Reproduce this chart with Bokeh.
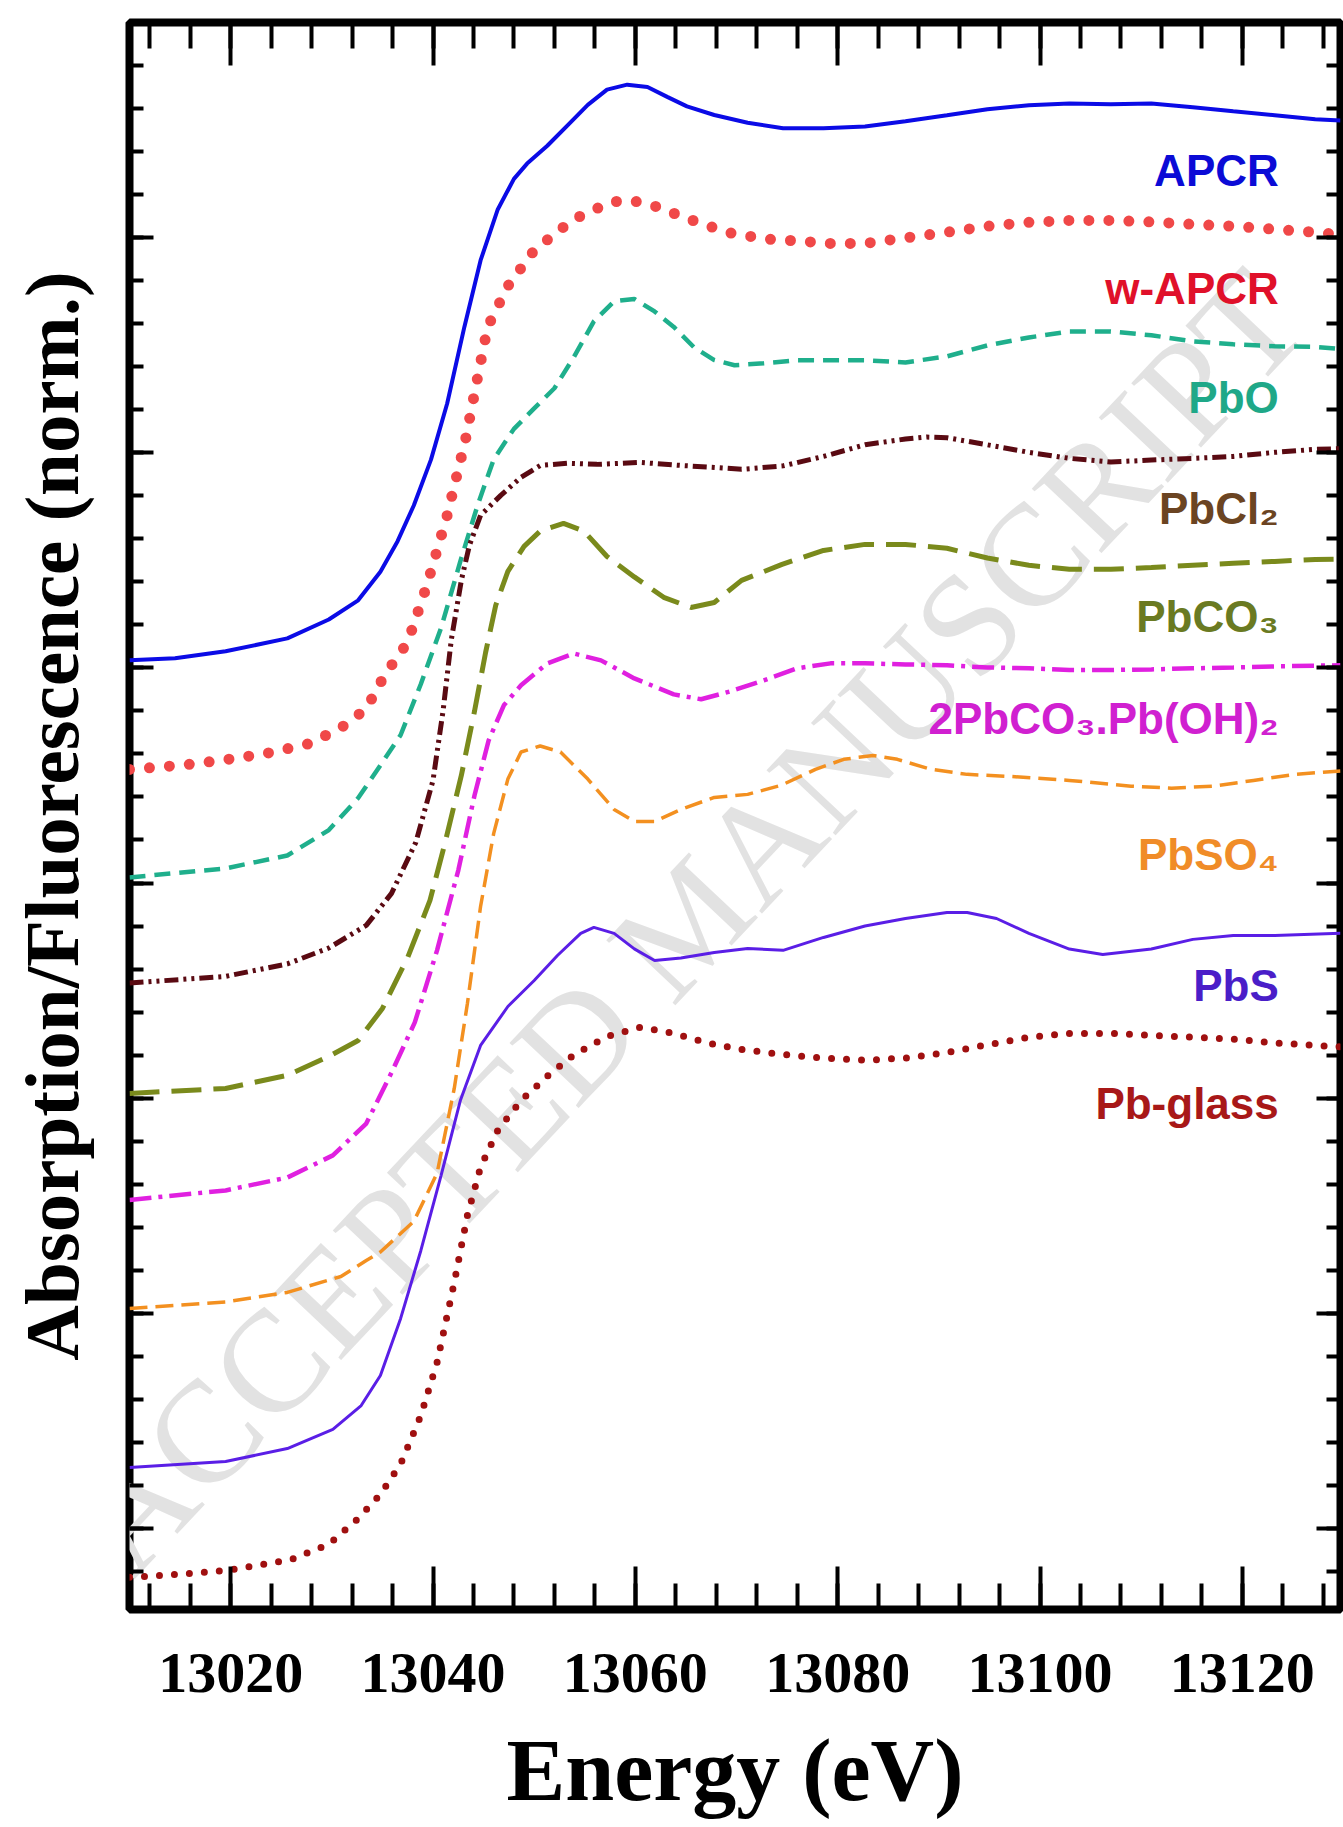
from bokeh.plotting import figure
from bokeh.models import Range1d, LinearAxis, SingleIntervalTicker, CustomJSTickFormatter
from bokeh.core.properties import value
from bokeh.embed import file_html
from bokeh.resources import INLINE

# ---------------- data ----------------
energy_apcr = [13010.0, 13014.5, 13019.5, 13025.6, 13029.7, 13032.6, 13034.8, 13036.5, 13038.1, 13039.8,
               13041.4, 13043.1, 13044.7, 13046.4, 13048.0, 13049.3, 13051.3, 13053.3, 13055.3, 13057.2,
               13059.2, 13061.2, 13063.2, 13065.1, 13067.8, 13071.1, 13074.6, 13078.6, 13082.7, 13086.7,
               13090.8, 13094.8, 13098.9, 13102.9, 13107.0, 13111.0, 13115.1, 13119.1, 13123.2, 13127.2, 13129.7]
mu_apcr = [4.035, 4.045, 4.077, 4.137, 4.225, 4.314, 4.447, 4.589, 4.755, 4.968,
           5.229, 5.585, 5.894, 6.131, 6.273, 6.344, 6.427, 6.522, 6.617, 6.688,
           6.711, 6.700, 6.653, 6.610, 6.570, 6.534, 6.508, 6.508, 6.517, 6.541,
           6.569, 6.597, 6.615, 6.624, 6.620, 6.624, 6.606, 6.587, 6.569, 6.550, 6.545]

energy_wapcr = [13010.0, 13015.4, 13019.5, 13023.6, 13027.7, 13030.9, 13033.4, 13035.2, 13037.5, 13039.4,
                13041.4, 13043.2, 13044.4, 13045.4, 13047.4, 13050.0, 13053.8, 13057.6, 13059.5, 13061.5,
                13065.5, 13069.1, 13073.0, 13076.7, 13078.6, 13082.7, 13086.7, 13090.8, 13094.8, 13098.9,
                13102.9, 13107.0, 13111.0, 13115.1, 13119.1, 13123.2, 13127.2, 13129.7]
mu_wapcr = [3.528, 3.549, 3.573, 3.603, 3.647, 3.721, 3.810, 3.965, 4.119, 4.384,
            4.709, 5.058, 5.348, 5.585, 5.775, 5.941, 6.083, 6.166, 6.173, 6.154,
            6.083, 6.024, 5.993, 5.983, 5.973, 5.973, 5.999, 6.025, 6.053, 6.071,
            6.080, 6.080, 6.073, 6.062, 6.053, 6.039, 6.025, 6.013]

energy_pbo = [13010.0, 13019.5, 13025.6, 13029.7, 13032.6, 13034.8, 13036.8, 13038.8, 13040.8, 13042.7,
              13044.4, 13046.0, 13048.0, 13050.0, 13052.0, 13053.9, 13055.9, 13057.9, 13059.9, 13061.9,
              13063.8, 13065.8, 13067.8, 13069.8, 13072.7, 13076.0, 13079.3, 13082.7, 13086.7, 13090.8,
              13094.8, 13098.9, 13102.9, 13107.0, 13111.0, 13115.1, 13119.1, 13123.2, 13127.2, 13129.7]
mu_pbo = [3.026, 3.068, 3.128, 3.246, 3.395, 3.547, 3.688, 3.925, 4.186, 4.495,
          4.755, 4.969, 5.111, 5.206, 5.300, 5.443, 5.611, 5.704, 5.715, 5.657,
          5.585, 5.490, 5.431, 5.407, 5.416, 5.430, 5.430, 5.430, 5.420, 5.448,
          5.499, 5.536, 5.564, 5.564, 5.546, 5.518, 5.504, 5.495, 5.492, 5.482]

energy_pbcl2 = [13010.0, 13019.5, 13025.6, 13029.7, 13033.4, 13035.9, 13038.3, 13040.0, 13041.0, 13041.8,
                13042.8, 13043.6, 13044.7, 13046.7, 13048.7, 13050.6, 13053.3, 13056.2, 13060.5, 13064.5,
                13067.8, 13070.5, 13074.6, 13078.6, 13082.7, 13086.7, 13088.8, 13090.8, 13094.8, 13098.9,
                13102.9, 13107.0, 13111.0, 13115.1, 13119.1, 13123.2, 13127.2, 13129.7]
mu_pbcl2 = [2.535, 2.566, 2.624, 2.698, 2.803, 2.952, 3.189, 3.477, 3.802, 4.128,
            4.407, 4.570, 4.709, 4.802, 4.886, 4.941, 4.951, 4.946, 4.955, 4.941,
            4.932, 4.923, 4.939, 4.983, 5.037, 5.064, 5.073, 5.070, 5.037, 5.002,
            4.974, 4.957, 4.966, 4.974, 4.983, 5.002, 5.016, 5.019]

energy_pbco3 = [13010.0, 13019.5, 13025.6, 13029.7, 13032.6, 13035.0, 13037.5, 13039.7, 13041.2, 13042.8,
                13044.1, 13045.2, 13046.2, 13047.4, 13049.0, 13050.6, 13052.9, 13054.9, 13057.2, 13059.9,
                13062.8, 13065.5, 13067.8, 13070.5, 13074.5, 13078.6, 13082.7, 13086.7, 13090.8, 13094.8,
                13098.9, 13102.9, 13107.0, 13111.0, 13115.1, 13119.1, 13123.2, 13127.2, 13129.7]
mu_pbco3 = [2.022, 2.045, 2.106, 2.194, 2.268, 2.417, 2.654, 2.919, 3.189, 3.500,
            3.798, 4.072, 4.291, 4.449, 4.565, 4.636, 4.672, 4.636, 4.518, 4.423,
            4.328, 4.281, 4.304, 4.407, 4.481, 4.546, 4.574, 4.574, 4.556, 4.511,
            4.477, 4.458, 4.458, 4.467, 4.477, 4.486, 4.495, 4.504, 4.506]

energy_hcer = [13010.0, 13019.5, 13025.6, 13030.1, 13033.4, 13035.9, 13038.2, 13040.4, 13042.5, 13044.1,
               13045.5, 13047.0, 13048.7, 13051.3, 13053.9, 13056.6, 13059.9, 13063.8, 13066.5, 13069.4,
               13072.7, 13076.0, 13079.3, 13082.7, 13086.7, 13090.8, 13094.8, 13098.9, 13102.9, 13107.0,
               13111.0, 13115.1, 13119.1, 13123.2, 13129.7]
mu_hcer = [1.527, 1.571, 1.631, 1.734, 1.882, 2.119, 2.352, 2.687, 3.059, 3.407,
           3.663, 3.826, 3.919, 4.021, 4.067, 4.035, 3.951, 3.877, 3.854, 3.891,
           3.942, 3.998, 4.021, 4.021, 4.016, 4.012, 4.002, 3.998, 3.990, 3.990,
           3.993, 3.998, 4.002, 4.007, 4.012]

energy_pbso4 = [13010.0, 13019.5, 13025.6, 13030.9, 13033.4, 13034.8, 13038.1, 13040.4, 13042.1, 13043.4,
                13044.7, 13046.0, 13047.4, 13048.7, 13050.6, 13052.6, 13055.3, 13057.9, 13059.9, 13061.9,
                13064.5, 13067.8, 13071.1, 13074.4, 13077.8, 13080.6, 13083.5, 13085.9, 13089.1, 13092.8,
                13096.8, 13102.9, 13109.0, 13113.0, 13117.1, 13121.1, 13125.2, 13129.7]
mu_pbso4 = [1.022, 1.053, 1.097, 1.171, 1.245, 1.285, 1.427, 1.651, 2.045, 2.440,
            2.891, 3.231, 3.483, 3.609, 3.637, 3.609, 3.483, 3.342, 3.286, 3.286,
            3.342, 3.398, 3.412, 3.454, 3.528, 3.575, 3.593, 3.575, 3.530, 3.505,
            3.496, 3.477, 3.450, 3.441, 3.450, 3.477, 3.505, 3.521]

energy_pbs = [13010.0, 13019.5, 13025.6, 13030.1, 13032.9, 13034.8, 13036.8, 13038.8, 13040.8, 13042.7,
              13044.7, 13047.4, 13050.0, 13052.3, 13054.6, 13055.9, 13057.9, 13059.9, 13061.9, 13064.5,
              13067.8, 13071.1, 13074.6, 13078.6, 13082.7, 13086.7, 13090.8, 13092.8, 13095.7, 13098.9,
              13102.9, 13106.2, 13111.0, 13115.1, 13119.1, 13123.2, 13129.7]
mu_pbs = [0.283, 0.311, 0.371, 0.460, 0.571, 0.711, 0.976, 1.292, 1.641, 1.989,
          2.245, 2.426, 2.547, 2.663, 2.766, 2.794, 2.766, 2.694, 2.640, 2.651,
          2.677, 2.696, 2.687, 2.747, 2.800, 2.835, 2.863, 2.863, 2.835, 2.766,
          2.693, 2.668, 2.693, 2.738, 2.756, 2.756, 2.766]

energy_glass = [13010.0, 13013.1, 13016.3, 13019.5, 13022.6, 13025.9, 13029.7, 13032.6, 13034.8, 13036.8,
                13038.8, 13040.4, 13042.1, 13043.4, 13044.7, 13046.4, 13048.7, 13051.3, 13053.9, 13057.2,
                13060.5, 13063.8, 13067.1, 13070.5, 13074.6, 13078.6, 13082.7, 13086.7, 13090.8, 13094.8,
                13098.9, 13102.9, 13107.0, 13111.0, 13115.1, 13119.1, 13123.2, 13129.7]
mu_glass = [-0.227, -0.219, -0.208, -0.196, -0.172, -0.146, -0.074, 0.046, 0.158, 0.299,
            0.525, 0.771, 1.143, 1.455, 1.679, 1.850, 1.989, 2.102, 2.201, 2.287,
            2.329, 2.301, 2.257, 2.226, 2.203, 2.186, 2.176, 2.186, 2.212, 2.248,
            2.283, 2.301, 2.301, 2.292, 2.283, 2.274, 2.257, 2.238]

sample_names = ["APCR", "w-APCR", "PbO", "PbCl\u2082", "PbCO\u2083",
                "2PbCO\u2083.Pb(OH)\u2082", "PbSO\u2084", "PbS", "Pb-glass"]
label_energy = [13123.6] * 9
label_level = [6.313, 5.762, 5.258, 4.742, 4.240, 3.765, 3.133, 2.524, 1.975]

x_ticks_interval = 20
y_ticks_interval = 1
x_title = "Energy (eV)"
y_title = "Absorption/Fluorescence (norm.)"

# ---------------- styles ----------------
curves = [
    (energy_apcr, mu_apcr, dict(line_color="#0b0be6", line_width=4)),
    (energy_wapcr, mu_wapcr, dict(line_color="#f04848", line_width=11, line_dash="0 20", line_cap="round")),
    (energy_pbo, mu_pbo, dict(line_color="#1faf8c", line_width=4.5, line_dash="16 9")),
    (energy_pbcl2, mu_pbcl2, dict(line_color="#5a0a12", line_width=5, line_dash="14 5 3 5 3 5")),
    (energy_pbco3, mu_pbco3, dict(line_color="#7a8a1c", line_width=5, line_dash="30 12")),
    (energy_hcer, mu_hcer, dict(line_color="#e020e0", line_width=4.5, line_dash="22 7 4 7")),
    (energy_pbso4, mu_pbso4, dict(line_color="#f39020", line_width=3.5, line_dash="18 8")),
    (energy_pbs, mu_pbs, dict(line_color="#5a1ee6", line_width=3)),
    (energy_glass, mu_glass, dict(line_color="#a01010", line_width=7, line_dash="0 15", line_cap="round")),
]
label_colors = ["#0b0bd6", "#e0102a", "#1fa888", "#6b4422", "#6a7a22",
                "#d020d0", "#f08c28", "#4a1ec8", "#a81818"]

x_lo, x_hi = 13010.0, 13129.7
p = figure(width=1343, height=1827,
           x_range=Range1d(x_lo, x_hi), y_range=Range1d(-0.377, 7.0),
           x_axis_location=None, y_axis_location=None,
           output_backend="svg", toolbar_location=None,
           min_border_left=129, min_border_right=3, min_border_top=22, min_border_bottom=218)
p.grid.visible = False
p.background_fill_color = "white"
p.border_fill_color = "white"
p.outline_line_color = "black"
p.outline_line_width = 8

# watermark
p.text(x=[13065.2], y=[2.826], text=["ACCEPTED MANUSCRIPT"], angle=0.815,
       text_align="center", text_baseline="middle", text_color="#e2e2e2",
       text_font=value("Liberation Serif"), text_font_size=value("145px"), level="underlay")

for ex, mu, st in curves:
    p.line(ex, mu, **st)

p.text(x=label_energy, y=label_level, text=sample_names, text_color=label_colors,
       text_align="right", text_baseline="middle",
       text_font=value("Liberation Sans"), text_font_style="bold", text_font_size=value("44px"))

xt = SingleIntervalTicker(interval=x_ticks_interval, num_minor_ticks=5)
yt = SingleIntervalTicker(interval=y_ticks_interval, num_minor_ticks=5)
blank = CustomJSTickFormatter(code="return '';")

bottom_ax = LinearAxis(ticker=xt)
top_ax = LinearAxis(ticker=xt, formatter=blank)
left_ax = LinearAxis(ticker=yt, formatter=blank)
right_ax = LinearAxis(ticker=yt, formatter=blank)
p.add_layout(bottom_ax, "below")
p.add_layout(top_ax, "above")
p.add_layout(left_ax, "left")
p.add_layout(right_ax, "right")

for ax in [bottom_ax, top_ax]:
    ax.major_tick_in = 43
    ax.minor_tick_in = 26
for ax in [left_ax, right_ax]:
    ax.major_tick_in = 24
    ax.minor_tick_in = 14
for ax in [bottom_ax, top_ax, left_ax, right_ax]:
    ax.axis_line_color = None
    ax.major_tick_out = 0
    ax.minor_tick_out = 0
    ax.major_tick_line_width = 4
    ax.minor_tick_line_width = 4
    ax.major_tick_line_color = "black"
    ax.minor_tick_line_color = "black"
for ax in [top_ax, left_ax, right_ax]:
    ax.major_label_standoff = 0

bottom_ax.major_label_text_font = "Liberation Serif"
bottom_ax.major_label_text_font_style = "bold"
bottom_ax.major_label_text_font_size = "58px"
bottom_ax.major_label_text_color = "black"
bottom_ax.major_label_standoff = 44
bottom_ax.axis_label = x_title
bottom_ax.axis_label_text_font = "Liberation Serif"
bottom_ax.axis_label_text_font_style = "bold"
bottom_ax.axis_label_text_font_size = "88px"
bottom_ax.axis_label_text_color = "black"
bottom_ax.axis_label_standoff = 27

left_ax.axis_label = y_title
left_ax.axis_label_text_font = "Liberation Serif"
left_ax.axis_label_text_font_style = "bold"
left_ax.axis_label_text_font_size = "77px"
left_ax.axis_label_text_color = "black"
left_ax.axis_label_standoff = 35

open("out.html", "w").write(file_html(p, INLINE))
